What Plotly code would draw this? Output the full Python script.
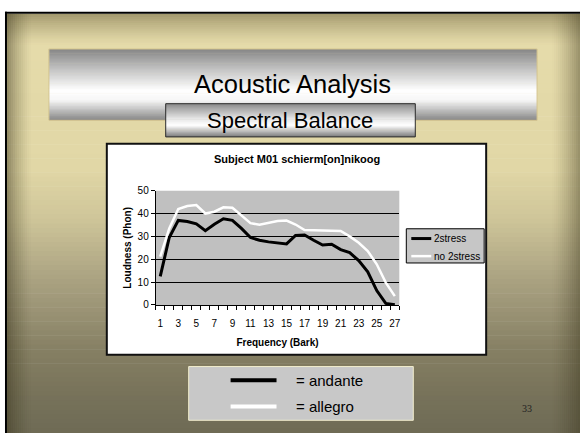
import plotly.graph_objects as go

# ---- data -------------------------------------------------------------
bark = list(range(1, 28))
stress = [12.5, 29.5, 37.0, 36.5, 35.5, 32.5, 35.3, 37.7, 37.0, 33.5,
          29.5, 28.3, 27.6, 27.3, 26.7, 30.4, 30.6, 28.3, 26.2, 26.6,
          24.2, 22.9, 19.4, 14.5, 6.3, 0.7, 0.1]
no_stress = [21.2, 33.5, 42.0, 43.3, 43.7, 40.0, 40.8, 42.7, 42.5, 39.2,
             35.8, 35.1, 35.8, 36.7, 36.9, 35.2, 32.8, 32.7, 32.7, 32.7,
             32.4, 30.0, 27.2, 23.6, 17.8, 9.8, 3.9]
y_ticks = [0, 10, 20, 30, 40, 50]
y_grid = [10, 20, 30, 40]
x_ticks = list(range(1, 28, 2))

W, H = 581, 438
FONT = "Liberation Sans, Arial, sans-serif"


def px(x):
    return x / W


def py(y):
    return 1 - y / H


def hexrgb(c):
    c = c.lstrip("#")
    return tuple(int(c[i:i + 2], 16) for i in (0, 2, 4))


def mix(stops, t):
    for (t0, c0), (t1, c1) in zip(stops, stops[1:]):
        if t0 <= t <= t1:
            f = 0 if t1 == t0 else (t - t0) / (t1 - t0)
            a, b = hexrgb(c0), hexrgb(c1)
            return "rgb(%d,%d,%d)" % tuple(round(a[i] + (b[i] - a[i]) * f) for i in range(3))
    return "rgb(%d,%d,%d)" % hexrgb(stops[-1][1])


shapes = []


def rect(x0, y0, x1, y1, fill, line=None, lw=0):
    shapes.append(dict(type="rect", xref="paper", yref="paper",
                       x0=px(x0), x1=px(x1), y0=py(y1), y1=py(y0),
                       fillcolor=fill, layer="below",
                       line=dict(width=lw, color=line or "rgba(0,0,0,0)")))


def vgrad(x0, y0, x1, y1, stops, n):
    h = (y1 - y0) / n
    for i in range(n):
        t = (i + 0.5) / n
        rect(x0, y0 + i * h, x1, min(y1, y0 + (i + 1) * h + 0.6), mix(stops, t))


# ---- slide background -------------------------------------------------
bg_stops = [(0.0, "#e6dcab"), (0.37, "#e1d7a6"), (0.49, "#cec599"),
            (0.63, "#aba382"), (0.80, "#868064"), (0.91, "#77725a"),
            (1.0, "#6f6b55")]
vgrad(7, 9, W, H, bg_stops, 90)

# bevelled frame edges
for i in range(16):
    a = 0.42 * (1 - i / 16) ** 1.4
    rect(7, 9 + i * 2, W, 11 + i * 2, "rgba(70,60,25,%.3f)" % a)
for i in range(12):
    a = 0.45 * (1 - i / 12) ** 1.4
    rect(7 + i * 2, 9, 9 + i * 2, H, "rgba(55,50,25,%.3f)" % a)
for i in range(14):
    a = 0.42 * (1 - i / 14) ** 1.4
    rect(W - 2 - i * 2, 9, W - i * 2, H, "rgba(55,50,25,%.3f)" % a)

# black outer border
rect(5, 7, W, 9, "#000000")
rect(5, 7, 7, H, "#000000")

# ---- title bar --------------------------------------------------------
title_stops = [(0.0, "#868686"), (0.3, "#c6c6c6"), (0.58, "#ffffff"),
               (0.72, "#f6f6f6"), (1.0, "#858585")]
vgrad(49, 45, 538, 118, title_stops, 50)
rect(49, 45, 538, 118, "rgba(0,0,0,0)", "#d4c48f", 1)

sub_stops = [(0.0, "#8a8a8a"), (0.45, "#e6e6e6"), (0.65, "#ffffff"),
             (1.0, "#7a7a7a")]
vgrad(166, 101, 416, 135, sub_stops, 30)
rect(166, 101, 416, 135, "rgba(0,0,0,0)", "#2a2a2a", 1)

# ---- chart box --------------------------------------------------------
rect(107, 142, 487, 358, "#ffffff", "#111111", 2)
shapes.append(dict(type="rect", xref="x domain", yref="y domain",
                   x0=0, x1=1, y0=0, y1=1, fillcolor="#c0c0c0",
                   line=dict(width=0), layer="below"))

# inner legend
rect(407, 229, 485, 264, "#c6c6c6", "#000000", 1)
shapes.append(dict(type="line", xref="paper", yref="paper", x0=px(412), x1=px(432),
                   y0=py(239), y1=py(239), line=dict(color="#000000", width=3)))
shapes.append(dict(type="line", xref="paper", yref="paper", x0=px(412), x1=px(432),
                   y0=py(257), y1=py(257), line=dict(color="#ffffff", width=2.5)))

# bottom key
rect(189, 370, 414, 425, "#c8c8c8", "#f2eecd", 1)
shapes.append(dict(type="line", xref="paper", yref="paper", x0=px(231), x1=px(277),
                   y0=py(384), y1=py(384), line=dict(color="#000000", width=4)))
shapes.append(dict(type="line", xref="paper", yref="paper", x0=px(231), x1=px(277),
                   y0=py(411), y1=py(411), line=dict(color="#ffffff", width=4)))

# ---- traces -----------------------------------------------------------
fig = go.Figure()
fig.add_trace(go.Scatter(x=bark, y=stress, mode="lines", name="2stress",
                         line=dict(color="#000000", width=3)))
fig.add_trace(go.Scatter(x=bark, y=no_stress, mode="lines", name="no 2stress",
                         line=dict(color="#ffffff", width=2.5)))


def ann(text, x, y, size, bold=False, anchor="center", family=FONT, color="#000000"):
    return dict(text="<b>%s</b>" % text if bold else text, x=px(x), y=py(y),
                xref="paper", yref="paper", showarrow=False, xanchor=anchor,
                yanchor="middle", font=dict(family=family, size=size, color=color))


annotations = [
    ann("Acoustic Analysis", 293, 81, 25.5),
    ann("Spectral Balance", 291, 118, 22),
    ann("Subject M01 schierm[on]nikoog", 298, 158, 11, bold=True),
    ann("2stress", 433, 239, 10, anchor="left"),
    ann("no 2stress", 433, 257, 10, anchor="left"),
    ann("= andante", 295, 384, 15, anchor="left"),
    ann("= allegro", 295, 411, 15, anchor="left"),
    ann("33", 528, 413, 10, family="Liberation Serif, Times New Roman, serif", color="#222222"),
]

fig.update_layout(
    width=W, height=H, margin=dict(l=0, r=0, t=0, b=0),
    paper_bgcolor="#ffffff", plot_bgcolor="rgba(0,0,0,0)",
    showlegend=False, shapes=shapes, annotations=annotations,
    font=dict(family=FONT, size=10, color="#000000"),
    xaxis=dict(domain=[px(156), px(400)], range=[0.5, 27.5],
               tickvals=x_ticks, ticks="", showgrid=False, zeroline=False,
               showline=True, linecolor="#000000", linewidth=1,
               ticklabelstandoff=9,
               minor=dict(tick0=0.5, dtick=1, ticks="outside", ticklen=4,
                          tickcolor="#000000", showgrid=False),
               tickfont=dict(size=10),
               title=dict(text="<b>Frequency (Bark)</b>", font=dict(size=10), standoff=11)),
    yaxis=dict(domain=[py(307), py(190)], range=[0, 50],
               tickvals=y_ticks, ticks="outside", ticklen=4, tickcolor="#000000",
               showgrid=False, zeroline=False,
               showline=True, linecolor="#000000", linewidth=1,
               minor=dict(tickvals=y_grid, ticks="", showgrid=True,
                          gridcolor="#000000", gridwidth=1),
               tickfont=dict(size=10),
               title=dict(text="<b>Loudness (Phon)</b>", font=dict(size=10), standoff=4)),
)

fig.write_html("out.html")
